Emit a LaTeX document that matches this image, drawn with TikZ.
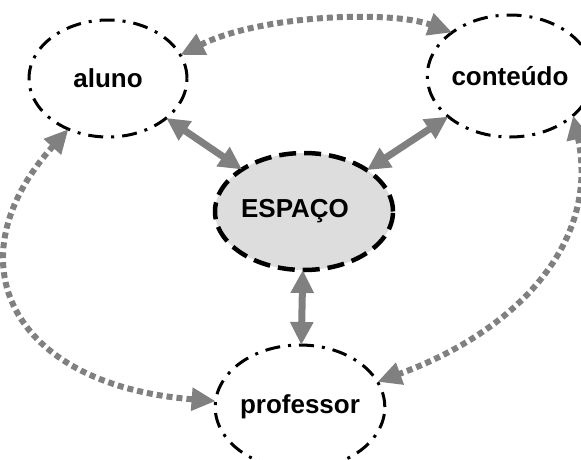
\documentclass[tikz,border=0pt]{standalone}
\usepackage{fontspec}
\setmainfont{Liberation Sans}
\usetikzlibrary{shapes.geometric,arrows.meta}
\definecolor{linkgray}{HTML}{808080}
\definecolor{corefill}{HTML}{DDDDDD}
\tikzset{
  actor/.style={ellipse, draw=black, line width=3pt, inner sep=0pt, outer sep=0pt,
    dash pattern=on 15pt off 8pt on 3pt off 8pt,
    font=\fontsize{26}{30}\selectfont\bfseries},
  core/.style={ellipse, draw=black, fill=corefill, line width=4.5pt, inner sep=0pt, outer sep=0pt,
    dash pattern=on 17pt off 8pt,
    font=\fontsize{26}{30}\selectfont\bfseries},
  strong/.style={draw=linkgray, line width=7pt,
    {Triangle[length=23pt,width=22pt]}-{Triangle[length=23pt,width=22pt]}},
  weak/.style={draw=linkgray, line width=6pt, dash pattern=on 6pt off 4pt,
    {Triangle[length=24pt,width=22pt]}-{Triangle[length=24pt,width=22pt]}}
}
\begin{document}
\begin{tikzpicture}[x=1pt,y=-1pt]
  \useasboundingbox (0,0) rectangle (581,459);

  % the four ellipses
  \node[actor, minimum width=158pt, minimum height=117pt] (aluno) at (108,78.5) {aluno};
  \node[actor, minimum width=164pt, minimum height=122pt] (conteudo) at (510,76) {conteúdo};
  \node[core, minimum width=158pt, minimum height=117pt] (espaco) at (304,211.5) {ESPAÇO\hspace*{18pt}};
  \node[actor, minimum width=156pt, minimum height=124pt] (professor) at (300,407) {professor};

  % links through the central space
  \draw[strong] (aluno) -- (espaco);
  \draw[strong] (conteudo) -- (espaco);
  \draw[strong] (espaco) -- (professor);

  % direct links around the outside
  \draw[weak] (aluno.18.7) .. controls (260,15) and (390,10) .. (conteudo.143.5);
  \draw[weak] (aluno.232.8) .. controls (-50,260) and (10,385) .. (professor.176);
  \draw[weak] (conteudo.328) .. controls (600,240) and (520,330) .. (professor.18);
\end{tikzpicture}
\end{document}
